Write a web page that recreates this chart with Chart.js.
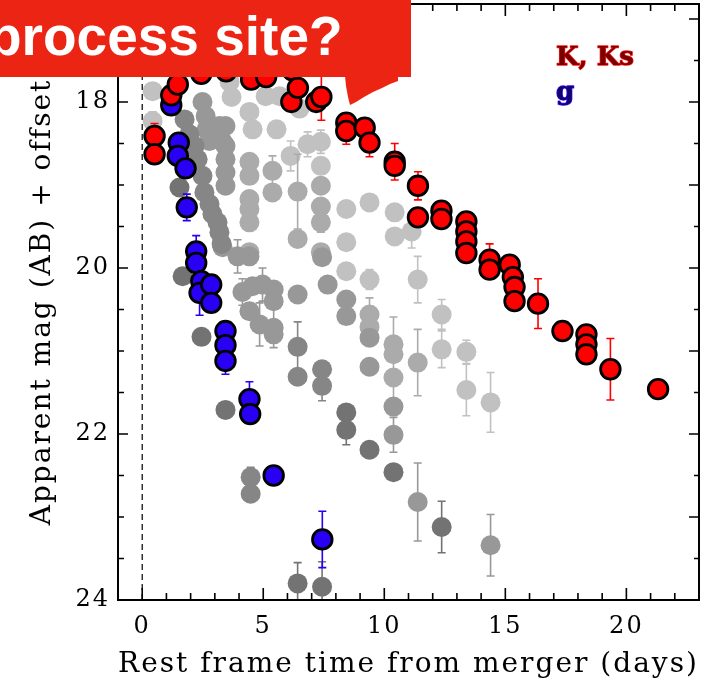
<!DOCTYPE html>
<html>
<head>
<meta charset="utf-8">
<script src="https://cdn.jsdelivr.net/npm/chart.js@4.4.0/dist/chart.umd.min.js"></script>
<style>
  html, body { margin: 0; padding: 0; background: #ffffff; }
  #wrap { width: 702px; height: 686px; position: relative; }
</style>
</head>
<body>
<div id="wrap"><canvas id="lc" width="702" height="686"></canvas></div>
<script>
// ---- K / Ks band (red, outlined) ----
const kDays = [0.51,0.51,1.20,1.47,2.44,3.47,4.50,5.12,6.21,6.16,6.43,7.19,7.40,8.43,8.43,9.19,9.39,10.43,10.43,11.39,11.39,12.36,12.36,13.39,13.39,13.39,13.39,14.35,14.35,15.18,15.31,15.38,15.38,16.35,17.36,18.35,18.35,18.35,19.34,21.31];
const kMags = [18.41,18.63,17.92,17.79,17.66,17.63,17.73,17.70,17.62,18.00,17.83,18.00,17.94,18.25,18.35,18.31,18.49,18.72,18.77,19.01,19.39,19.31,19.41,19.44,19.56,19.68,19.82,19.90,20.02,19.96,20.11,20.23,20.40,20.43,20.76,20.80,20.92,21.04,21.22,21.46];
const kErrs = [0.15,0.05,0.05,0.05,0.05,0.05,0.05,0.05,0.05,0.05,0.05,0.05,0.28,0.05,0.16,0.05,0.17,0.22,0.05,0.17,0.05,0.05,0.05,0.05,0.05,0.05,0.05,0.19,0.05,0.05,0.05,0.05,0.05,0.30,0.05,0.05,0.05,0.05,0.37,0.05];

// ---- g band (blue, outlined) ----
const gDays = [1.20,1.51,1.47,1.79,1.84,2.23,2.23,2.44,2.37,2.85,2.85,3.44,3.44,3.44,4.43,4.46,5.43,7.44];
const gMags = [18.04,18.49,18.65,18.80,19.27,19.80,19.94,20.16,20.30,20.20,20.42,20.76,20.93,21.12,21.58,21.76,22.50,23.27];
const gErrs = [0.05,0.05,0.05,0.05,0.16,0.19,0.05,0.05,0.27,0.05,0.05,0.05,0.05,0.16,0.21,0.05,0.05,0.34];

// ---- other bands, grey shades from dark to light ----
const grey1Days = [1.54,1.67,2.45,3.44,6.42,7.43,8.43,8.43,9.39,10.38,12.37];
const grey1Mags = [19.03,20.10,20.83,21.71,23.80,23.84,21.74,21.95,22.19,22.46,23.12];
const grey1Errs = [0,0,0,0,0.25,0.30,0,0.18,0,0,0.31];

const grey2Days = [1.75,1.95,2.16,2.29,2.49,2.57,2.78,2.90,3.11,3.19,3.28,6.42,6.42,7.43,7.43,4.48,4.48];
const grey2Mags = [18.21,18.39,18.53,18.69,18.89,19.09,19.23,19.35,19.45,19.57,19.71,20.95,21.31,21.22,21.42,22.52,22.72];
const grey2Errs = [0,0,0,0,0,0,0,0,0,0,0,0.30,0,0,0.18,0.12,0];

const grey3Days = [2.49,2.62,2.66,2.78,3.19,3.32,3.44,3.44,3.44,3.44,3.44,3.32,3.94,4.43,4.14,4.56,4.97,5.43,5.43,4.43,4.85,5.43,5.43,6.42,7.43,7.66,8.43,8.43,9.39,9.39,10.38,10.38,11.38,14.39];
const grey3Mags = [18.00,18.17,18.33,18.47,18.29,18.48,18.29,18.53,18.69,18.85,19.01,19.75,19.86,19.86,20.29,20.22,20.20,20.26,20.40,20.52,20.68,20.72,20.80,20.32,19.87,20.20,20.38,20.58,20.84,21.19,21.67,22.01,22.82,23.34];
const grey3Errs = [0,0,0,0,0,0,0,0,0,0,0,0,0.20,0,0.16,0,0.20,0,0,0,0.26,0.24,0,0,0,0,0,0,0,0,0,0.21,0.47,0.37];

const grey4Days = [4.43,4.43,4.43,4.43,4.43,4.43,5.38,5.38,6.42,6.42,7.38,7.38,7.38,7.38,9.39,9.39,10.38,10.38,10.38,11.38];
const grey4Mags = [18.72,18.89,19.17,19.29,19.45,19.81,18.83,19.09,19.08,19.65,19.01,19.26,19.45,19.81,20.56,20.71,20.92,21.04,21.32,21.14];
const grey4Errs = [0,0,0,0,0,0,0.18,0,0.45,0,0,0,0.12,0,0.20,0,0.33,0,0.30,0.40];

const grey5Days = [0.43,0.43,3.61,3.69,5.10,5.67,6.50,5.55,4.56,4.43,6.13,6.83,7.38,7.38,8.43,9.39,10.43,11.13,10.43,8.43,8.43,9.39,11.38,12.37,12.37,13.39,13.39,14.39];
const grey5Mags = [17.87,18.23,17.76,17.94,17.93,17.93,18.08,18.33,18.33,18.12,18.65,18.51,18.48,18.77,19.29,19.21,19.33,19.56,19.62,19.69,20.04,20.14,20.14,20.56,20.98,21.01,21.47,21.62];
const grey5Errs = [0,0.11,0,0,0,0,0,0,0,0,0.18,0.15,0.14,0,0,0,0,0.20,0,0,0,0.12,0.28,0.18,0.22,0.14,0.31,0.36];

// ---- axes ----
const xTickVals = [0, 5, 10, 15, 20];
const yTickVals = [18, 20, 22, 24];
const xRange = [-1, 23];
const yRange = [16.82, 24];

const legendItems = [
  { text: 'K, Ks', fill: '#7a0000', edge: '#ff1a1a' },
  { text: 'g', fill: '#16006e', edge: '#2a10ff' }
];

// Series listed top-most first (Chart.js paints the first dataset last).
const series = [
  { days: kDays, mags: kMags, errs: kErrs, color: '#ff0000', edge: '#000000', bar: '#ff0000' },
  { days: gDays, mags: gMags, errs: gErrs, color: '#2a00f5', edge: '#000000', bar: '#2a00f5' },
  { days: grey1Days, mags: grey1Mags, errs: grey1Errs, color: '#737373', bar: '#737373' },
  { days: grey2Days, mags: grey2Mags, errs: grey2Errs, color: '#868686', bar: '#868686' },
  { days: grey3Days, mags: grey3Mags, errs: grey3Errs, color: '#989898', bar: '#989898' },
  { days: grey4Days, mags: grey4Mags, errs: grey4Errs, color: '#ababab', bar: '#ababab' },
  { days: grey5Days, mags: grey5Mags, errs: grey5Errs, color: '#c1c1c1', bar: '#c1c1c1' }
];

const datasets = series.map(s => ({
  data: s.days.map((d, i) => ({ x: d, y: s.mags[i] })),
  errs: s.errs,
  barColor: s.bar,
  showLine: false,
  pointStyle: 'circle',
  pointRadius: s.edge ? 9.8 : 10,
  pointHoverRadius: s.edge ? 9.8 : 10,
  pointBackgroundColor: s.color,
  pointBorderColor: s.edge || s.color,
  pointBorderWidth: s.edge ? 2.8 : 0
}));

// Vertical magnitude error bars, painted just under each dataset's points.
const errorBars = {
  id: 'errorBars',
  beforeDatasetDraw(chart, args) {
    const ds = chart.data.datasets[args.index];
    if (!ds.errs) return;
    const { ctx, chartArea: a, scales: { x, y } } = chart;
    ctx.save();
    ctx.beginPath();
    ctx.rect(a.left, a.top, a.right - a.left, a.bottom - a.top);
    ctx.clip();
    ctx.strokeStyle = ds.barColor;
    ctx.lineWidth = 1.6;
    ctx.beginPath();
    ds.data.forEach((p, i) => {
      const e = ds.errs[i];
      if (!e) return;
      const px = x.getPixelForValue(p.x);
      const y1 = y.getPixelForValue(p.y - e);
      const y2 = y.getPixelForValue(p.y + e);
      ctx.moveTo(px, y1); ctx.lineTo(px, y2);
      ctx.moveTo(px - 4, y1); ctx.lineTo(px + 4, y1);
      ctx.moveTo(px - 4, y2); ctx.lineTo(px + 4, y2);
    });
    ctx.stroke();
    ctx.restore();
  }
};

// Boxed frame with inward ticks on all four sides, and the dashed merger-time line.
const frame = {
  id: 'frame',
  beforeDraw(chart) {
    // wide, airy lettering for the axis text
    chart.ctx.letterSpacing = '2px';
  },
  beforeDatasetsDraw(chart) {
    const { ctx, chartArea: a, scales: { x } } = chart;
    const x0 = x.getPixelForValue(0);
    ctx.save();
    ctx.strokeStyle = '#000';
    ctx.lineWidth = 1.2;
    ctx.setLineDash([6, 4]);
    ctx.beginPath();
    ctx.moveTo(x0, a.bottom);
    ctx.lineTo(x0, a.top);
    ctx.stroke();
    ctx.restore();
  },
  afterDatasetsDraw(chart) {
    const { ctx, chartArea: a, scales: { x, y } } = chart;
    ctx.save();
    ctx.strokeStyle = '#000';
    ctx.lineWidth = 2;
    ctx.strokeRect(a.left, a.top, a.right - a.left, a.bottom - a.top);
    ctx.lineWidth = 1.6;
    ctx.beginPath();
    for (let d = xRange[0] + 1; d < xRange[1]; d++) {
      const px = x.getPixelForValue(d);
      const L = d % 5 === 0 ? 12 : 7;
      ctx.moveTo(px, a.bottom); ctx.lineTo(px, a.bottom - L);
      ctx.moveTo(px, a.top); ctx.lineTo(px, a.top + L);
    }
    for (let m = 17; m < yRange[1]; m += 0.5) {
      const py = y.getPixelForValue(m);
      const Ll = m % 2 === 0 ? 10 : 6;
      const Lr = Number.isInteger(m) ? 10 : 5;
      ctx.moveTo(a.left, py); ctx.lineTo(a.left + Ll, py);
      ctx.moveTo(a.right, py); ctx.lineTo(a.right - Lr, py);
    }
    ctx.stroke();

    // band key
    ctx.letterSpacing = '0px';
    ctx.font = 'bold 26px "DejaVu Serif"';
    ctx.textBaseline = 'alphabetic';
    ctx.lineJoin = 'round';
    legendItems.forEach((it, i) => {
      const ty = 65 + i * 35;
      ctx.strokeStyle = it.edge;
      ctx.lineWidth = 1.4;
      ctx.strokeText(it.text, 556, ty);
      ctx.fillStyle = it.fill;
      ctx.fillText(it.text, 556, ty);
    });
    ctx.restore();
  }
};

// Headline banner across the top-left corner.
const banner = {
  id: 'banner',
  afterDraw(chart) {
    const ctx = chart.ctx;
    ctx.save();
    ctx.letterSpacing = '0px';
    ctx.fillStyle = '#ec2414';
    ctx.fillRect(0, 0, 411, 77);
    ctx.beginPath();
    ctx.moveTo(345, 76);
    ctx.lineTo(398, 76);
    ctx.lineTo(398, 81);
    ctx.lineTo(390, 84);
    ctx.lineTo(382, 88);
    ctx.lineTo(373, 92);
    ctx.lineTo(364, 97);
    ctx.lineTo(356, 102);
    ctx.lineTo(350, 105);
    ctx.lineTo(348, 97);
    ctx.lineTo(346, 86);
    ctx.closePath();
    ctx.fill();
    ctx.fillStyle = '#ffffff';
    ctx.font = 'bold 55px "Liberation Sans"';
    ctx.textBaseline = 'alphabetic';
    ctx.fillText('process site?', -12, 55);
    ctx.restore();
  }
};

const serif = '"DejaVu Serif", "Liberation Serif", serif';

// Keep the plot box fixed: no extra room reserved for overhanging labels.
function fixBox(size, key) {
  return s => {
    s[key] = size;
    s.paddingTop = 0; s.paddingBottom = 0; s.paddingLeft = 0; s.paddingRight = 0;
  };
}

new Chart(document.getElementById('lc'), {
  type: 'scatter',
  data: { datasets },
  options: {
    responsive: false,
    animation: false,
    events: [],
    layout: { autoPadding: false, padding: { left: 0, right: 3, top: 4, bottom: 0 } },
    plugins: { legend: { display: false }, tooltip: { enabled: false } },
    scales: {
      x: {
        type: 'linear',
        min: xRange[0],
        max: xRange[1],
        afterBuildTicks: s => { s.ticks = xTickVals.map(v => ({ value: v })); },
        afterFit: fixBox(86, 'height'),
        grid: { display: false, drawTicks: false },
        border: { display: false },
        ticks: {
          color: '#000',
          font: { family: serif, size: 24 },
          padding: 12,
          maxRotation: 0,
          autoSkip: false
        },
        title: {
          display: true,
          text: 'Rest frame time from merger (days)',
          color: '#000',
          font: { family: serif, size: 28 },
          padding: { top: 0, bottom: 4 }
        }
      },
      y: {
        type: 'linear',
        reverse: true,
        min: yRange[0],
        max: yRange[1],
        afterBuildTicks: s => { s.ticks = yTickVals.map(v => ({ value: v })); },
        afterFit: fixBox(118, 'width'),
        grid: { display: false, drawTicks: false },
        border: { display: false },
        ticks: {
          color: '#000',
          font: { family: serif, size: 24 },
          padding: 8
        },
        title: {
          display: true,
          text: 'Apparent mag (AB) + offset',
          color: '#000',
          font: { family: serif, size: 28 },
          padding: { top: 26, bottom: 0 }
        }
      }
    }
  },
  plugins: [errorBars, frame, banner]
});
</script>
</body>
</html>
